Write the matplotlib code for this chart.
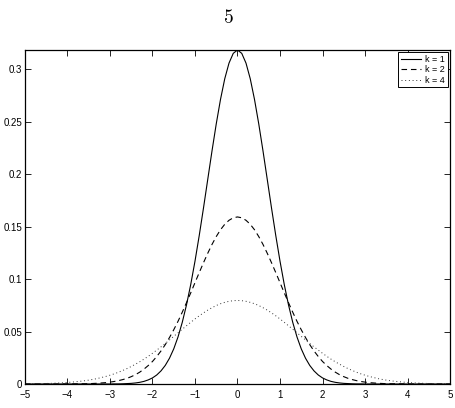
import matplotlib
matplotlib.use("Agg")
import matplotlib.pyplot as plt

# sample positions along x (step 0.1 from -5 to 5)
x = [i / 10 for i in range(-50, 51)]

# curve values (rows of ten samples)
k1 = [0.0, 0.0, 0.0, 0.0, 0.0, 0.0, 0.0, 0.0, 0.0, 0.0,
      0.0, 0.0, 0.0, 0.0, 0.0, 0.0, 0.0, 0.0, 0.0, 0.0,
      0.0, 0.0001, 0.0001, 0.0002, 0.0004, 0.0006, 0.0010, 0.0016, 0.0025, 0.0039,
      0.0058, 0.0086, 0.0125, 0.0177, 0.0246, 0.0335, 0.0448, 0.0587, 0.0754, 0.0949,
      0.1171, 0.1416, 0.1678, 0.1950, 0.2221, 0.2479, 0.2712, 0.2909, 0.3058, 0.3151,
      0.3183, 0.3151, 0.3058, 0.2909, 0.2712, 0.2479, 0.2221, 0.1950, 0.1678, 0.1416,
      0.1171, 0.0949, 0.0754, 0.0587, 0.0448, 0.0335, 0.0246, 0.0177, 0.0125, 0.0086,
      0.0058, 0.0039, 0.0025, 0.0016, 0.0010, 0.0006, 0.0004, 0.0002, 0.0001, 0.0001,
      0.0, 0.0, 0.0, 0.0, 0.0, 0.0, 0.0, 0.0, 0.0, 0.0,
      0.0, 0.0, 0.0, 0.0, 0.0, 0.0, 0.0, 0.0, 0.0, 0.0,
      0.0]

k2 = [0.0, 0.0, 0.0, 0.0, 0.0, 0.0, 0.0, 0.0, 0.0, 0.0,
      0.0001, 0.0001, 0.0001, 0.0002, 0.0002, 0.0003, 0.0005, 0.0007, 0.0010, 0.0013,
      0.0018, 0.0024, 0.0032, 0.0042, 0.0054, 0.0070, 0.0089, 0.0113, 0.0142, 0.0176,
      0.0215, 0.0262, 0.0315, 0.0375, 0.0443, 0.0517, 0.0597, 0.0684, 0.0775, 0.0869,
      0.0966, 0.1062, 0.1156, 0.1246, 0.1330, 0.1405, 0.1470, 0.1522, 0.1560, 0.1584,
      0.1592, 0.1584, 0.1560, 0.1522, 0.1470, 0.1405, 0.1330, 0.1246, 0.1156, 0.1062,
      0.0966, 0.0869, 0.0775, 0.0684, 0.0597, 0.0517, 0.0443, 0.0375, 0.0315, 0.0262,
      0.0215, 0.0176, 0.0142, 0.0113, 0.0089, 0.0070, 0.0054, 0.0042, 0.0032, 0.0024,
      0.0018, 0.0013, 0.0010, 0.0007, 0.0005, 0.0003, 0.0002, 0.0002, 0.0001, 0.0001,
      0.0001, 0.0, 0.0, 0.0, 0.0, 0.0, 0.0, 0.0, 0.0, 0.0,
      0.0]

k4 = [0.0002, 0.0002, 0.0003, 0.0003, 0.0004, 0.0005, 0.0006, 0.0008, 0.0010, 0.0012,
      0.0015, 0.0018, 0.0022, 0.0026, 0.0031, 0.0037, 0.0044, 0.0052, 0.0062, 0.0072,
      0.0084, 0.0097, 0.0112, 0.0129, 0.0147, 0.0167, 0.0189, 0.0212, 0.0237, 0.0264,
      0.0293, 0.0323, 0.0354, 0.0386, 0.0420, 0.0454, 0.0488, 0.0522, 0.0555, 0.0588,
      0.0620, 0.0650, 0.0678, 0.0704, 0.0727, 0.0748, 0.0765, 0.0778, 0.0788, 0.0794,
      0.0796, 0.0794, 0.0788, 0.0778, 0.0765, 0.0748, 0.0727, 0.0704, 0.0678, 0.0650,
      0.0620, 0.0588, 0.0555, 0.0522, 0.0488, 0.0454, 0.0420, 0.0386, 0.0354, 0.0323,
      0.0293, 0.0264, 0.0237, 0.0212, 0.0189, 0.0167, 0.0147, 0.0129, 0.0112, 0.0097,
      0.0084, 0.0072, 0.0062, 0.0052, 0.0044, 0.0037, 0.0031, 0.0026, 0.0022, 0.0018,
      0.0015, 0.0012, 0.0010, 0.0008, 0.0006, 0.0005, 0.0004, 0.0003, 0.0003, 0.0002,
      0.0002]

labels = ["k = 1", "k = 2", "k = 4"]
xticks = [-5, -4, -3, -2, -1, 0, 1, 2, 3, 4, 5]
yticks = [0, 0.05, 0.1, 0.15, 0.2, 0.25, 0.3]
yticklabels = ["0", "0.05", "0.1", "0.15", "0.2", "0.25", "0.3"]

plt.rcParams['font.family'] = ['Liberation Sans', 'DejaVu Sans']
plt.rcParams['mathtext.fontset'] = 'cm'

fig = plt.figure(figsize=(4.56, 4.08), dpi=100)
ax = fig.add_axes([25/456, 24/408, 425/456, 334/408])

ax.plot(x, k1, color='black', lw=0.8, linestyle='-', label=labels[0])
ax.plot(x, k2, color='black', lw=0.8, linestyle=(0, (5, 3.5)), label=labels[1])
ax.plot(x, k4, color='#333333', lw=0.7, linestyle=(0, (1, 2.8)), label=labels[2])

ax.set_xlim(-5, 5)
ax.set_ylim(0, 0.3183)
ax.set_xticks(xticks)
ax.set_xticklabels(["\u2212%d" % -t if t < 0 else "%d" % t for t in xticks])
ax.set_yticks(yticks)
ax.set_yticklabels(yticklabels)
ax.tick_params(direction='in', length=4, width=0.6, labelsize=7, top=True, right=True)
ax.tick_params(axis='x', pad=4)
ax.tick_params(axis='y', pad=2)
for s in ax.spines.values():
    s.set_linewidth(0.9)

leg = ax.legend(loc='upper right', fontsize=6.5, frameon=True, fancybox=False,
                edgecolor='black', framealpha=1, borderaxespad=0.25,
                handlelength=2.2, handletextpad=0.5, borderpad=0.3, labelspacing=0.15)
leg.get_frame().set_linewidth(0.7)

fig.text(0.5, 1 - 18/408, r'$5$', ha='center', va='center', fontsize=14)

fig.savefig('out.png', dpi=100)
